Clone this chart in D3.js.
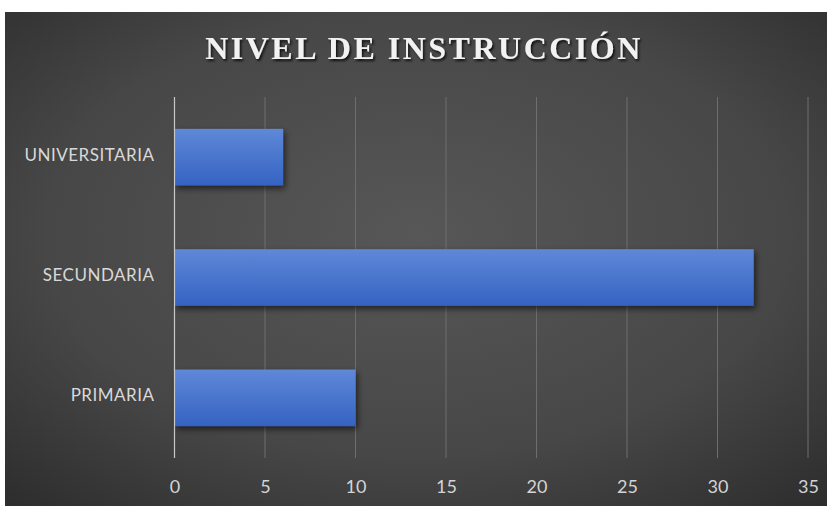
<!DOCTYPE html>
<html><head><meta charset="utf-8">
<script src="https://cdn.jsdelivr.net/npm/d3@7"></script>
<style>html,body{margin:0;padding:0;background:#fff;}svg{display:block;}</style>
</head><body><svg id="c" width="828" height="506"></svg>
<script>
const categories = ["UNIVERSITARIA", "SECUNDARIA", "PRIMARIA"];
const values = [6, 32, 10];
const xTicks = [0, 5, 10, 15, 20, 25, 30, 35];
const title = "NIVEL DE INSTRUCCIÓN";

const svg = d3.select("#c");
const W = 828, H = 506;
const defs = svg.append("defs");
const bg = defs.append("radialGradient").attr("id","bg").attr("cx","0.5").attr("cy","0.45").attr("r","0.75");
bg.append("stop").attr("offset","0").attr("stop-color","#575757");
bg.append("stop").attr("offset","0.6").attr("stop-color","#474747");
bg.append("stop").attr("offset","1").attr("stop-color","#2c2c2c");
const bar = defs.append("linearGradient").attr("id","bar").attr("x1",0).attr("y1",0).attr("x2",0).attr("y2",1);
bar.append("stop").attr("offset","0").attr("stop-color","#5f88d8");
bar.append("stop").attr("offset","1").attr("stop-color","#3563c2");
const sh = defs.append("filter").attr("id","sh").attr("x","-10%").attr("y","-30%").attr("width","130%").attr("height","170%");
sh.append("feDropShadow").attr("dx",2).attr("dy",3).attr("stdDeviation",3).attr("flood-color","#000").attr("flood-opacity",0.6);
const tsh = defs.append("filter").attr("id","tsh");
tsh.append("feDropShadow").attr("dx",1.5).attr("dy",2).attr("stdDeviation",1.2).attr("flood-color","#000").attr("flood-opacity",0.8);

svg.append("rect").attr("x",5).attr("y",12).attr("width",W-6).attr("height",H-12).attr("fill","url(#bg)");

const margin = {left:174.5, right:20, top:97, bottom:48};
const x = d3.scaleLinear().domain([0,35]).range([margin.left, 808]);
const y = d3.scaleBand().domain(categories).range([margin.top, H-margin.bottom]).paddingInner(0.53).paddingOuter(0.265);

// gridlines
svg.append("g").selectAll("line").data(xTicks.filter(d=>d>0)).join("line")
  .attr("x1",d=>x(d)).attr("x2",d=>x(d)).attr("y1",margin.top).attr("y2",H-margin.bottom)
  .attr("stroke","#6e6e6e").attr("stroke-width",1);

// bars
svg.append("g").selectAll("rect").data(categories).join("rect")
  .attr("x",x(0)).attr("y",d=>y(d)).attr("height",y.bandwidth())
  .attr("width",(d,i)=>x(values[i])-x(0))
  .attr("fill","url(#bar)").attr("filter","url(#sh)");

// axis line
svg.append("line").attr("x1",x(0)).attr("x2",x(0)).attr("y1",margin.top).attr("y2",H-margin.bottom)
  .attr("stroke","#c8c8c8").attr("stroke-width",1.2);

// x tick labels
const xa = svg.append("g").attr("transform",`translate(0,${H-margin.bottom})`)
  .call(d3.axisBottom(x).tickValues(xTicks).tickSize(0).tickPadding(22));
xa.select(".domain").remove();
xa.selectAll("text").attr("fill","#d4d4d4").style("font-family","Lato, 'Open Sans', sans-serif").style("font-size","18px");

// y labels
const ya = svg.append("g").attr("transform",`translate(${x(0)},0)`)
  .call(d3.axisLeft(y).tickSize(0).tickPadding(20));
ya.select(".domain").remove();
ya.selectAll("text").attr("fill","#d9d9d9").attr("dy","0.2em").style("font-family","Lato, 'Open Sans', sans-serif").style("font-size","17px").style("letter-spacing","0.5px");

svg.append("text").attr("x",424).attr("y",59).attr("text-anchor","middle")
  .attr("fill","#f2f2f2").attr("filter","url(#tsh)")
  .style("font-family","'Liberation Serif', 'DejaVu Serif', serif").style("font-weight","bold")
  .style("font-size","32px").style("letter-spacing","2.5px").text(title);
</script></body></html>
